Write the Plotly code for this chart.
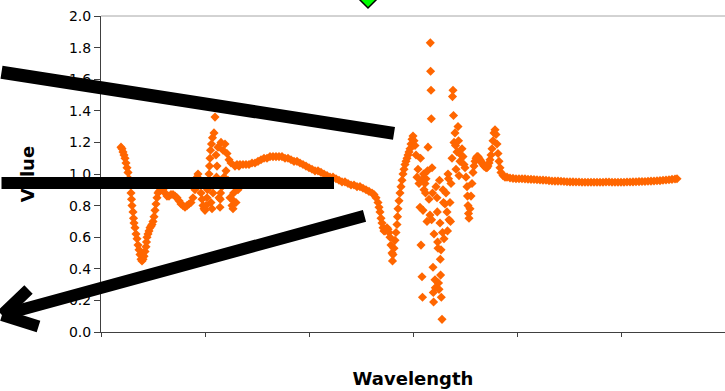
import plotly.graph_objects as go

# ---------------- data (wavelength index, value) ----------------
wl_a = [20, 21, 22, 23, 24, 25, 26, 27, 28, 29, 30, 30.5, 31, 32, 32.5, 33, 34, 35, 36, 37,
        38, 39, 40, 41, 42, 43, 44, 45, 45.5, 46, 47, 48, 49, 50, 51, 52, 53, 54, 55, 56,
        57, 58, 60, 62, 64, 66, 68, 70, 72, 74, 76, 78, 80, 82, 84, 86, 88, 90, 92, 94,
        95, 96, 97, 98, 99, 100, 101, 102, 103, 104, 105, 106, 106.5, 107]
val_a = [1.17, 1.16, 1.14, 1.12, 1.10, 1.07, 1.04, 1.01, 0.97, 0.93, 0.88, 0.84, 0.80, 0.76, 0.72, 0.69, 0.66, 0.62, 0.59, 0.55,
         0.52, 0.49, 0.46, 0.45, 0.46, 0.48, 0.51, 0.54, 0.57, 0.60, 0.62, 0.64, 0.66, 0.67, 0.68, 0.70, 0.73, 0.77, 0.81, 0.85,
         0.88, 0.89, 0.90, 0.90, 0.88, 0.86, 0.86, 0.87, 0.87, 0.86, 0.85, 0.83, 0.81, 0.80, 0.79, 0.80, 0.81, 0.82, 0.85, 0.90,
         0.94, 0.98, 1.00, 0.97, 0.93, 0.88, 0.84, 0.80, 0.78, 0.77, 0.80, 0.85, 0.90, 0.95]

wl_b = [108, 108.5, 109, 109.5, 110, 110.5, 111, 111.5, 112, 113, 114, 115, 115.5, 116, 117, 118, 119, 119.3, 119.6, 120,
        121, 122, 123, 124, 125, 126, 127, 128, 129, 130, 131, 132, 132.3, 132.6, 133, 134, 135, 136, 137, 138]
val_b = [1.00, 1.05, 1.10, 1.15, 0.82, 1.19, 0.78, 1.23, 0.88, 1.26, 1.36, 1.12, 0.98, 1.05, 1.17, 0.85, 0.79, 0.84, 0.88, 1.20,
         0.92, 1.15, 0.98, 1.19, 1.02, 1.13, 0.96, 1.09, 0.85, 1.07, 0.80, 0.78, 0.83, 0.88, 0.93, 1.05, 0.82, 1.06, 0.90, 1.05]

wl_c = [139, 142, 145, 148, 151, 154, 157, 160, 163, 166, 169, 172, 175, 178, 181, 184, 187, 190, 193, 196,
        199, 202, 205, 208, 211, 214, 217, 220, 223, 226, 229, 232, 235, 238, 241, 244, 247, 250, 253, 256,
        259, 262, 265, 268, 271, 273, 275, 277]
val_c = [1.06, 1.06, 1.06, 1.06, 1.07, 1.07, 1.08, 1.09, 1.10, 1.10, 1.11, 1.11, 1.11, 1.11, 1.11, 1.10, 1.10, 1.09, 1.08, 1.08,
         1.07, 1.06, 1.05, 1.04, 1.03, 1.02, 1.02, 1.01, 1.00, 0.99, 0.98, 0.98, 0.97, 0.96, 0.95, 0.95, 0.94, 0.93, 0.93, 0.92,
         0.92, 0.91, 0.90, 0.89, 0.88, 0.87, 0.85, 0.82]

wl_d = [278, 279, 280, 281, 282, 283, 284, 285, 286, 287, 288, 289, 290, 291, 291.5, 292, 293, 294, 295, 296,
        296.5, 297, 298, 299, 300, 301, 302, 303, 304, 305, 306, 307, 308, 309, 310, 311, 312, 313, 314]
val_d = [0.79, 0.76, 0.72, 0.69, 0.66, 0.64, 0.64, 0.65, 0.66, 0.65, 0.63, 0.60, 0.55, 0.50, 0.45, 0.49, 0.53, 0.58, 0.63, 0.68,
         0.73, 0.78, 0.83, 0.88, 0.92, 0.96, 1.00, 1.03, 1.06, 1.08, 1.10, 1.12, 1.14, 1.16, 1.19, 1.22, 1.24, 1.21, 1.18]

wl_e = [315, 316, 317, 318, 319, 319.5, 320, 320.5, 321, 321.5, 322, 322.5, 323, 324, 324.5, 325, 326, 326.5, 327, 328,
        329, 329.3, 329.6, 330, 330.3, 330.6, 331, 331.5, 332, 332.3, 332.6, 333, 334, 334.3, 335, 336, 336.3, 336.6, 337, 337.5,
        338, 338.5, 339, 339.3, 339.6, 340, 340.3, 341, 341.5, 342, 342.5, 343, 344, 345, 346, 346.5, 347, 347.5, 348, 349,
        349.5, 350, 351, 351.5, 352, 352.5, 353, 354, 354.5, 355, 356, 357, 357.5, 358, 359, 360, 361, 362, 363, 364,
        365, 366, 366.5, 367, 367.5, 368]
val_e = [1.12, 0.98, 1.03, 0.94, 0.79, 1.10, 0.55, 0.96, 0.35, 0.22, 0.77, 1.00, 0.90, 0.94, 0.88, 0.97, 0.70, 1.02, 1.17, 0.84,
         0.74, 1.83, 1.65, 1.53, 1.35, 0.71, 1.04, 0.88, 0.41, 0.25, 0.19, 0.62, 0.33, 0.28, 0.92, 0.85, 0.76, 0.57, 0.53, 0.31,
         0.27, 0.96, 0.69, 0.46, 0.36, 0.52, 0.22, 0.08, 0.63, 0.90, 0.82, 0.59, 0.81, 0.88, 0.76, 0.64, 1.00, 0.97, 0.71, 0.82,
         0.70, 0.94, 1.10, 1.49, 1.53, 1.37, 1.20, 1.26, 1.18, 1.03, 1.14, 1.30, 1.21, 0.99, 1.08, 1.12, 1.16, 1.11, 1.06, 1.04,
         0.98, 0.92, 0.86, 0.80, 0.75, 0.72]

wl_f = [369, 370, 371, 372, 373, 374, 375, 376, 377, 378, 379, 380, 381, 382, 383, 384, 385, 386, 387, 388,
        389, 390, 391, 392, 393, 394, 395, 396, 397, 398, 399, 400, 402, 404, 406]
val_f = [0.78, 0.86, 0.94, 1.01, 1.05, 1.08, 1.10, 1.11, 1.11, 1.10, 1.09, 1.08, 1.07, 1.06, 1.05, 1.05, 1.04, 1.04, 1.05, 1.07,
         1.09, 1.12, 1.16, 1.21, 1.26, 1.28, 1.25, 1.19, 1.13, 1.08, 1.04, 1.01, 0.99, 0.98, 0.98]

wl_g = [409, 412, 415, 418, 421, 424, 427, 430, 433, 436, 439, 442, 445, 448, 451, 454, 457, 460, 463, 466,
        469, 472, 475, 478, 481, 484, 487, 490, 493, 496, 499, 502, 505, 508, 511, 514, 517, 520, 523, 526,
        529, 532, 535, 538, 541, 544, 547, 550, 553, 556, 559, 562, 565, 568, 571, 574, 576]
val_g = [0.975, 0.972, 0.970, 0.970, 0.970, 0.969, 0.967, 0.966, 0.965, 0.964, 0.962, 0.961, 0.960, 0.958, 0.956, 0.955, 0.955, 0.954, 0.953, 0.951,
         0.950, 0.950, 0.949, 0.949, 0.948, 0.948, 0.948, 0.948, 0.948, 0.948, 0.948, 0.948, 0.949, 0.949, 0.948, 0.948, 0.948, 0.948, 0.948, 0.949,
         0.949, 0.950, 0.951, 0.952, 0.953, 0.953, 0.954, 0.955, 0.956, 0.957, 0.958, 0.960, 0.962, 0.964, 0.966, 0.968, 0.970]

y_ticks = [0.0, 0.2, 0.4, 0.6, 0.8, 1.0, 1.2, 1.4, 1.6, 1.8, 2.0]

segments = [(wl_a, val_a), (wl_b, val_b), (wl_c, val_c), (wl_d, val_d),
            (wl_e, val_e), (wl_f, val_f), (wl_g, val_g)]
wavelength, value = [], []
for w, v in segments:
    assert len(w) == len(v), (len(w), len(v))
    wavelength += w
    value += v

# ---------------- figure ----------------
fig = go.Figure()
fig.add_trace(go.Scatter(
    x=wavelength, y=value, mode="markers",
    marker=dict(symbol="diamond", size=7, color="#FF6600", line=dict(width=0)),
    showlegend=False, hoverinfo="skip"))

L, T, W, H = 101, 16, 624, 316  # plot area in px


def px2paper(px, py):
    return (px - L) / W, (T + H - py) / H


def stroke(head, tail, width):
    hx, hy = px2paper(*head)
    fig.add_annotation(x=hx, y=hy, xref="paper", yref="paper",
                       ax=tail[0] - head[0], ay=tail[1] - head[1],
                       axref="pixel", ayref="pixel",
                       text="", showarrow=True, arrowhead=0, arrowwidth=width,
                       arrowcolor="black", standoff=0, startstandoff=0,
                       font=dict(size=1))


# thick black overlay lines (decoration)
stroke((394, 133.3), (-20, 72), 13)
stroke((334, 183), (-20, 183), 12)
stroke((2, 315), (366, 215.5), 12)
stroke((2, 315), (30, 288), 12)
stroke((2, 315), (40, 327), 12)

# plot-area top border
fig.add_shape(type="line", xref="paper", yref="paper", x0=0, x1=1, y0=1, y1=1,
              line=dict(color="#a6a6a6", width=1))

# green diamond symbol peeking in at the top edge (decoration)
cx, cy = px2paper(368, -2)
dx, dy = 10 / W, 10 / H
fig.add_shape(type="path", xref="paper", yref="paper",
              path=f"M {cx - dx},{cy} L {cx},{cy + dy} L {cx + dx},{cy} L {cx},{cy - dy} Z",
              fillcolor="#00FF00", line=dict(color="black", width=1.5))

fig.update_layout(
    width=725, height=391,
    margin=dict(l=L, r=725 - L - W, t=T, b=391 - T - H, pad=0),
    paper_bgcolor="white", plot_bgcolor="white",
    font=dict(family="DejaVu Sans", color="black"),
    xaxis=dict(range=[0, 624], tickmode="linear", tick0=0, dtick=104,
               showticklabels=False, ticks="outside", ticklen=4, tickcolor="#404040",
               showline=True, linecolor="#404040", linewidth=1,
               showgrid=False, zeroline=False,
               title=dict(text="<b>Wavelength</b>", font=dict(size=18, family="DejaVu Sans"), standoff=36)),
    yaxis=dict(range=[0, 2], tickmode="array", tickvals=y_ticks,
               ticktext=[f"{t:.1f}" for t in y_ticks],
               ticks="outside", ticklen=6, tickcolor="#404040",
               showline=True, linecolor="#404040", linewidth=1,
               showgrid=False, zeroline=False,
               tickfont=dict(size=14, family="DejaVu Sans"),
               title=dict(text="<b>Value</b>", font=dict(size=18, family="DejaVu Sans"), standoff=29)),
)

fig.write_html("out.html")
